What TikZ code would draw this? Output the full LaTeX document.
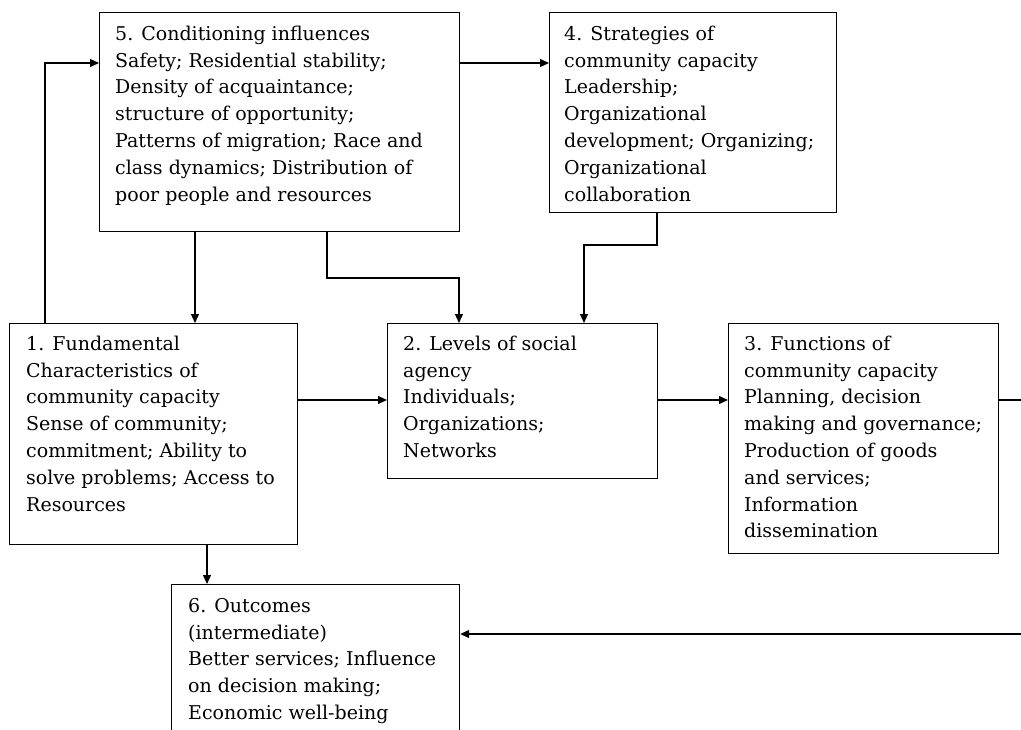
\documentclass[tikz,border=0pt]{standalone}
\usepackage{fontspec}
\setmainfont{DejaVu Serif}
\usetikzlibrary{arrows.meta}
\begin{document}
\begin{tikzpicture}[x=1pt,y=-1pt,
  box/.style={draw, line width=1.2pt, inner sep=0pt, anchor=north west},
  txt/.style={anchor=north west, align=left, inner sep=0pt, font=\fontsize{19}{26.8}\selectfont},
  ln/.style={line width=1.2pt},
  arr/.style={line width=1.2pt, -{Triangle[length=9pt,width=8pt]}}]
\useasboundingbox (0,0) rectangle (1021,729);
\clip (0,0) rectangle (1021,729);
% boxes
\node[box, minimum width=360pt, minimum height=219pt] (b5) at (99,12) {};
\node[box, minimum width=287pt, minimum height=200pt] (b4) at (549,12) {};
\node[box, minimum width=288pt, minimum height=221pt] (b1) at (9,323) {};
\node[box, minimum width=270pt, minimum height=155pt] (b2) at (387,323) {};
\node[box, minimum width=270pt, minimum height=230pt] (b3) at (728,323) {};
\node[box, minimum width=288pt, minimum height=170pt] (b6) at (171,584) {};
% texts (top = first baseline - 18.76)
\node[txt] (t5) at (115,21.24) {\strut 5. Conditioning influences\\Safety; Residential stability;\\Density of acquaintance;\\structure of opportunity;\\Patterns of migration; Race and\\class dynamics; Distribution of\\poor people and resources};
\node[txt] (t4) at (564,21.24) {\strut 4. Strategies of\\community capacity\\Leadership;\\Organizational\\development; Organizing;\\Organizational\\collaboration};
\node[txt] (t1) at (26,331.24) {\strut 1. Fundamental\\Characteristics of\\community capacity\\Sense of community;\\commitment; Ability to\\solve problems; Access to\\Resources};
\node[txt] (t2) at (403,331.24) {\strut 2. Levels of social\\agency\\Individuals;\\Organizations;\\Networks};
\node[txt] (t3) at (744,331.24) {\strut 3. Functions of\\community capacity\\Planning, decision\\making and governance;\\Production of goods\\and services;\\Information\\dissemination};
\node[txt] (t6) at (188,593.24) {\strut 6. Outcomes\\(intermediate)\\Better services; Influence\\on decision making;\\Economic well-being};
% helper coordinates
\coordinate (k1) at (45,63);
\coordinate (k2) at (195,0);
\coordinate (k3) at (327,278);
\coordinate (k4) at (459,278);
\coordinate (k5) at (657,245);
\coordinate (k6) at (584,245);
\coordinate (k7) at (0,400);
\coordinate (k8) at (207,0);
\coordinate (e1) at (1021,400);
\coordinate (e2) at (1021,634);
% connectors
\draw[arr] (b1.north -| k1) -- (k1) -- (b5.west |- k1);
\draw[arr] (b5.east |- k1) -- (b4.west |- k1);
\draw[arr] (b5.south -| k2) -- (b1.north -| k2);
\draw[arr] (b5.south -| k3) -- (k3) -- (k4) -- (b2.north -| k4);
\draw[arr] (b4.south -| k5) -- (k5) -- (k6) -- (b2.north -| k6);
\draw[arr] (b1.east |- k7) -- (b2.west |- k7);
\draw[arr] (b2.east |- k7) -- (b3.west |- k7);
\draw[ln] (b3.east |- k7) -- (e1);
\draw[arr] (e2) -- (b6.east |- e2);
\draw[arr] (b1.south -| k8) -- (b6.north -| k8);
\end{tikzpicture}
\end{document}
